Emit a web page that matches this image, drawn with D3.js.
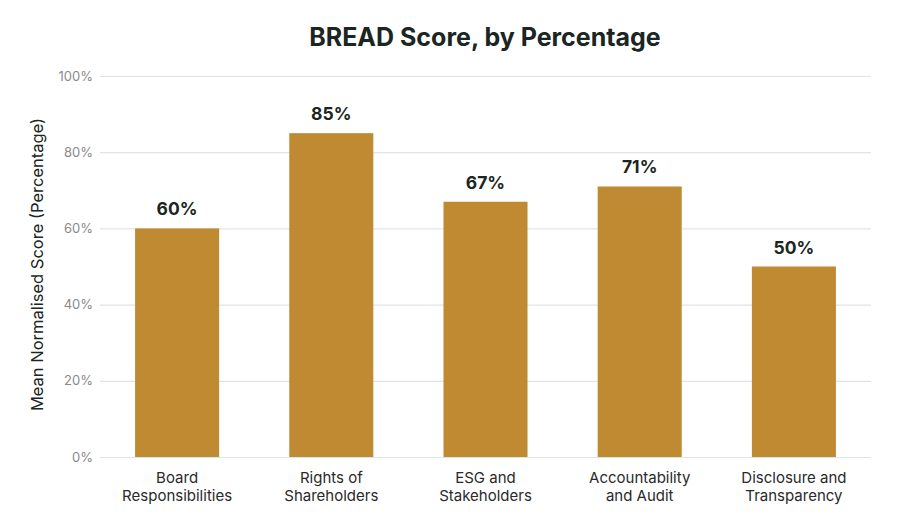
<!DOCTYPE html>
<html>
<head>
<meta charset="utf-8">
<script src="https://cdn.jsdelivr.net/npm/d3@7"></script>
<style>
  body { margin: 0; background: #fff; }
  text { font-family: Inter, "Open Sans", sans-serif; }
</style>
</head>
<body>
<div id="chart"></div>
<script>
// chart values
let categories = [
    ["Board", "Responsibilities"],
    ["Rights of", "Shareholders"],
    ["ESG and", "Stakeholders"],
    ["Accountability", "and Audit"],
    ["Disclosure and", "Transparency"]
];
let scores = [60, 85, 67, 71, 50];
let yTicks = [0, 20, 40, 60, 80, 100];

let width  = 900;
let height = 532;
let margin = { top: 76, bottom: 75, left: 100, right: 29 };

let svg = d3.select('#chart')
    .append('svg')
        .attr('width', width)
        .attr('height', height)
        .style('background', '#ffffff');

let g = svg.append('g')
    .attr('transform', 'translate(' + margin.left + ',' + margin.top + ')');

let innerW = width - margin.left - margin.right;
let innerH = height - margin.top - margin.bottom;

let xScale = d3.scaleBand()
    .domain(d3.range(categories.length))
    .range([0, innerW])
    .paddingInner(0.455)
    .paddingOuter(0.2275);

let yScale = d3.scaleLinear()
    .domain([0, 100])
    .range([innerH, 0]);

// gridlines + y labels
let yAxis = d3.axisLeft(yScale)
    .tickValues(yTicks)
    .tickSize(-innerW)
    .tickPadding(7)
    .tickFormat(d => d + '%');

let yg = g.append('g')
    .attr('class', 'y axis')
    .call(yAxis);
yg.select('.domain').remove();
yg.selectAll('.tick line').attr('stroke', '#dfe4e6').attr('stroke-width', 1.2);
yg.selectAll('.tick text')
    .attr('fill', '#8a8a8a')
    .style('font-size', '13px');

// bars
g.selectAll('rect.bar')
    .data(scores)
    .enter()
    .append('rect')
        .attr('class', 'bar')
        .attr('x', (d, i) => xScale(i))
        .attr('y', d => yScale(d))
        .attr('width', xScale.bandwidth())
        .attr('height', d => innerH - yScale(d))
        .attr('fill', '#bf8a31');

// value labels
g.selectAll('text.val')
    .data(scores)
    .enter()
    .append('text')
        .attr('class', 'val')
        .attr('x', (d, i) => xScale(i) + xScale.bandwidth() / 2)
        .attr('y', d => yScale(d) - 13)
        .attr('text-anchor', 'middle')
        .attr('fill', '#1b2622')
        .style('font-size', '17.5px')
        .style('font-weight', 700)
        .text(d => d + '%');

// x labels
let xl = g.selectAll('text.cat')
    .data(categories)
    .enter()
    .append('text')
        .attr('class', 'cat')
        .attr('text-anchor', 'middle')
        .attr('fill', '#2a2a2a')
        .style('font-size', '15px')
        .attr('transform', (d, i) => 'translate(' + (xScale(i) + xScale.bandwidth() / 2) + ',' + (innerH + 26) + ')');
xl.selectAll('tspan')
    .data(d => d)
    .enter()
    .append('tspan')
        .attr('x', 0)
        .attr('dy', (d, i) => i === 0 ? 0 : 17.5)
        .text(d => d);

// y title
svg.append('text')
    .attr('transform', 'translate(43,' + (margin.top + innerH / 2 - 2) + ') rotate(-90)')
    .attr('text-anchor', 'middle')
    .attr('fill', '#1b2622')
    .style('font-size', '16.5px')
    .text('Mean Normalised Score (Percentage)');

// title
svg.append('text')
    .attr('x', 485)
    .attr('y', 46)
    .attr('text-anchor', 'middle')
    .attr('fill', '#1b2622')
    .style('font-size', '25px')
    .style('font-weight', 700)
    .text('BREAD Score, by Percentage');
</script>
</body>
</html>
